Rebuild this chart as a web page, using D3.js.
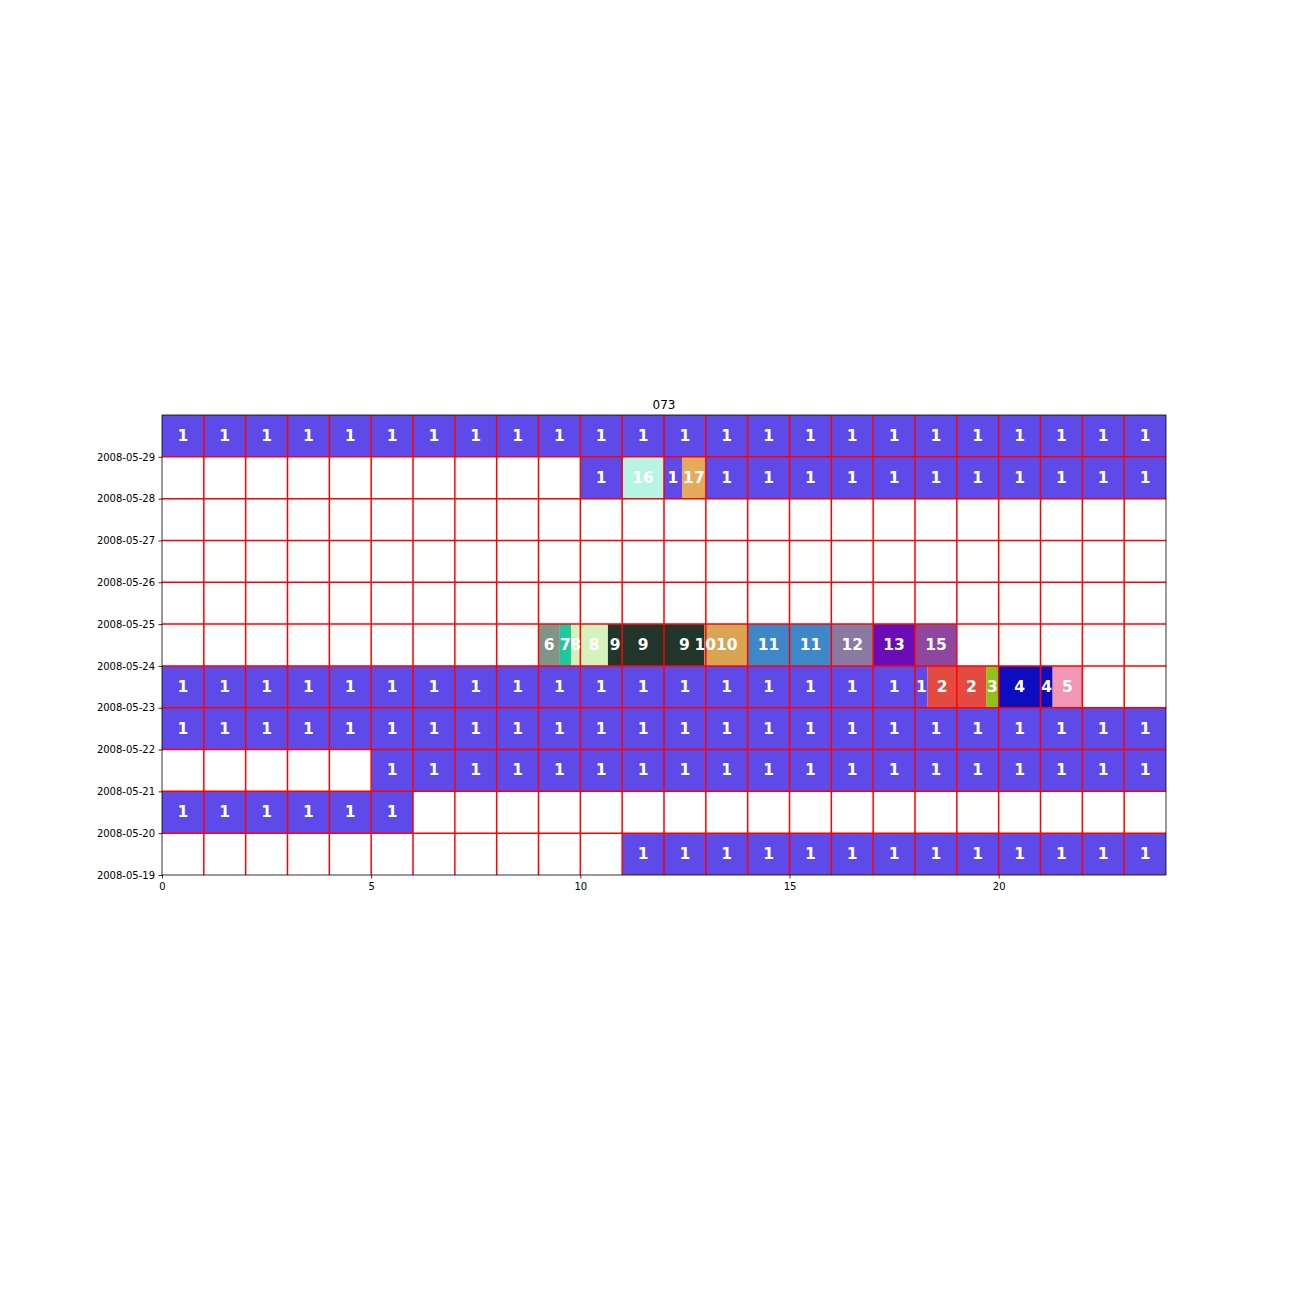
<!DOCTYPE html>
<html>
<head>
<meta charset="utf-8">
<script src="https://cdn.jsdelivr.net/npm/d3@7"></script>
<style>
  html, body { margin: 0; padding: 0; background: #fff; }
  svg { display: block; }
</style>
</head>
<body>
<svg id="chart" width="1296" height="1296"></svg>
<script>
// ---- data ----
const title = "073";
const dayLabels = ["2008-05-19","2008-05-20","2008-05-21","2008-05-22","2008-05-23","2008-05-24","2008-05-25","2008-05-26","2008-05-27","2008-05-28","2008-05-29"];
const xTicks = [0, 5, 10, 15, 20];
// runs per day: [startHour, endHour, label]
const runs0519 = [[11, 24, 1]];
const runs0520 = [[0, 6, 1]];
const runs0521 = [[5, 24, 1]];
const runs0522 = [[0, 24, 1]];
const runs0523 = [[0, 18.3, 1], [18.3, 19.7, 2], [19.7, 20, 3], [20, 21.29, 4], [21.29, 22, 5]];
const runs0524 = [[9, 9.51, 6], [9.51, 9.78, 7], [9.78, 10.66, 8], [10.66, 12.97, 9], [12.97, 14, 10], [14, 16, 11], [16, 17, 12], [17, 18, 13], [18, 19, 15]];
const runs0525 = [];
const runs0526 = [];
const runs0527 = [];
const runs0528 = [[10, 11, 1], [11, 12, 16], [12, 12.43, 1], [12.43, 13, 17], [13, 24, 1]];
const runs0529 = [[0, 24, 1]];
const dayRuns = [runs0519, runs0520, runs0521, runs0522, runs0523, runs0524, runs0525, runs0526, runs0527, runs0528, runs0529];
const labelKeys = [1, 2, 3, 4, 5, 6, 7, 8, 9, 10, 11, 12, 13, 15, 16, 17];
const labelColors = ["#5e4ae8", "#e34a40", "#93bf1a", "#0c0cc0", "#ef97b4", "#809487", "#1fc99e", "#d5f2bd", "#22352b", "#d9a552", "#3e87c9", "#8a7aa1", "#6a0cb8", "#8f479e", "#b6f5e3", "#e5ab5d"];

// ---- layout ----
const svg = d3.select("#chart");
const L = 162, R = 1166, T = 415, B = 875;
const parse = d3.timeParse("%Y-%m-%d");
const x = d3.scaleLinear().domain([0, 24]).range([L, R]);
const y = d3.scaleTime().domain([parse("2008-05-19"), parse("2008-05-30")]).range([B, T]);
const color = d3.scaleOrdinal().domain(labelKeys).range(labelColors);

// split runs at hour boundaries into cells
const cells = [];
dayRuns.forEach((runs, di) => {
  const d0 = parse(dayLabels[0]);
  const day = d3.timeDay.offset(d0, di);
  runs.forEach(([s, e, lab]) => {
    let a = s;
    while (a < e - 1e-9) {
      const b = Math.min(e, Math.floor(a + 1e-9) + 1);
      cells.push({day, s: a, e: b, lab});
      a = b;
    }
  });
});

const g = svg.append("g");
g.selectAll("rect.cell").data(cells).join("rect")
  .attr("class", "cell")
  .attr("x", d => x(d.s))
  .attr("width", d => x(d.e) - x(d.s))
  .attr("y", d => y(d3.timeDay.offset(d.day, 1)))
  .attr("height", d => y(d.day) - y(d3.timeDay.offset(d.day, 1)))
  .attr("fill", d => color(d.lab));

// grid lines
const hours = d3.range(1, 24);
g.selectAll("line.vg").data(hours).join("line")
  .attr("x1", d => x(d)).attr("x2", d => x(d))
  .attr("y1", T).attr("y2", B)
  .attr("stroke", "#ff0000").attr("stroke-width", 1.5);
const dayBounds = d3.range(1, 11).map(i => d3.timeDay.offset(parse("2008-05-19"), i));
g.selectAll("line.hg").data(dayBounds).join("line")
  .attr("x1", L).attr("x2", R)
  .attr("y1", d => y(d)).attr("y2", d => y(d))
  .attr("stroke", "#ff0000").attr("stroke-width", 1.5);

// cell labels
g.selectAll("text.lab").data(cells).join("text")
  .attr("x", d => x((d.s + d.e) / 2))
  .attr("y", d => (y(d.day) + y(d3.timeDay.offset(d.day, 1))) / 2)
  .attr("text-anchor", "middle")
  .attr("dominant-baseline", "central")
  .attr("fill", "#fff")
  .attr("font-family", "DejaVu Sans")
  .attr("font-weight", "bold")
  .attr("font-size", 15.5)
  .text(d => d.lab);

// axes
const xAxis = d3.axisBottom(x).tickValues(xTicks).tickSize(3.5).tickPadding(4).tickFormat(d3.format("d"));
const gx = svg.append("g").attr("transform", `translate(0,${B})`).call(xAxis);
const yTickVals = dayLabels.map(parse);
const yAxis = d3.axisLeft(y).tickValues(yTickVals).tickSize(3.5).tickPadding(3.5).tickFormat(d3.timeFormat("%Y-%m-%d"));
const gy = svg.append("g").attr("transform", `translate(${L},0)`).call(yAxis);
[gx, gy].forEach(ga => {
  ga.select(".domain").remove();
  ga.selectAll("text").attr("font-family", "DejaVu Sans").attr("font-size", 10).attr("fill", "#000");
  ga.selectAll("line").attr("stroke", "#000").attr("stroke-width", 0.8);
});

// spines
svg.append("rect").attr("x", L).attr("y", T).attr("width", R - L).attr("height", B - T)
  .attr("fill", "none").attr("stroke", "#000").attr("stroke-width", 0.8);

// title
svg.append("text").attr("x", (L + R) / 2).attr("y", T - 6)
  .attr("text-anchor", "middle")
  .attr("font-family", "DejaVu Sans").attr("font-size", 12)
  .attr("fill", "#000")
  .text(title);
</script>
</body>
</html>
